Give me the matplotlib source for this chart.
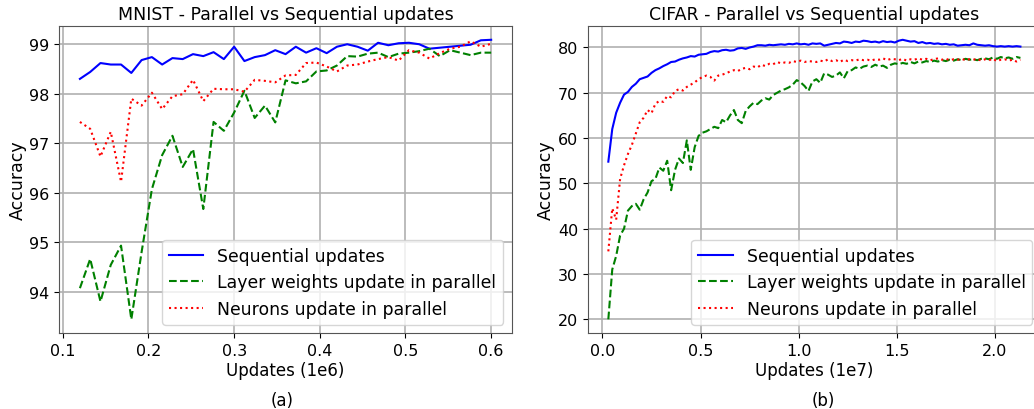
import numpy as np
import matplotlib
matplotlib.use('Agg')
import matplotlib.pyplot as plt

# MNIST run, updates in units of 1e6
mnist_updates = np.linspace(0.12, 0.6, 41)
mnist_sequential = [98.30, 98.44, 98.62, 98.59, 98.59, 98.42, 98.68, 98.74, 98.59, 98.72,
                    98.70, 98.80, 98.76, 98.84, 98.70, 98.95, 98.66, 98.74, 98.78, 98.88,
                    98.80, 98.95, 98.83, 98.92, 98.82, 98.95, 99.00, 98.95, 98.87, 99.03,
                    98.98, 99.02, 99.03, 99.00, 98.91, 98.93, 98.95, 98.97, 98.99, 99.08,
                    99.09]
mnist_layer = [94.07, 94.66, 93.80, 94.54, 94.93, 93.44, 94.80, 96.07, 96.76, 97.15,
               96.52, 96.88, 95.67, 97.43, 97.25, 97.62, 98.06, 97.51, 97.76, 97.42,
               98.27, 98.21, 98.25, 98.45, 98.47, 98.57, 98.76, 98.75, 98.81, 98.83,
               98.74, 98.81, 98.83, 98.86, 98.91, 98.76, 98.88, 98.83, 98.78, 98.83,
               98.83]
mnist_neurons = [97.43, 97.29, 96.73, 97.23, 96.22, 97.90, 97.76, 98.02, 97.69, 97.95,
                 97.99, 98.28, 97.85, 98.10, 98.09, 98.09, 98.04, 98.28, 98.26, 98.23,
                 98.37, 98.38, 98.62, 98.63, 98.55, 98.45, 98.57, 98.59, 98.65, 98.70,
                 98.74, 98.67, 98.88, 98.83, 98.71, 98.82, 98.91, 98.95, 99.06, 98.95,
                 99.01]

# CIFAR run, updates in units of 1e7
cifar_updates = np.linspace(0.03, 2.13, 106)
cifar_sequential = [54.8, 62.0, 65.6, 67.8, 69.6, 70.2, 71.3, 72.0, 73.0, 73.3,
                    73.6, 74.4, 75.0, 75.4, 75.9, 76.3, 76.8, 76.9, 77.3, 77.6,
                    77.8, 78.1, 78.0, 78.4, 78.5, 78.6, 79.0, 79.2, 79.1, 79.4,
                    79.5, 79.3, 79.4, 79.8, 79.9, 79.7, 80.0, 80.2, 80.5, 80.5,
                    80.4, 80.6, 80.5, 80.6, 80.7, 80.6, 80.8, 80.7, 80.9, 80.7,
                    80.8, 80.6, 80.9, 80.8, 80.9, 80.4, 80.6, 80.8, 81.0, 80.9,
                    81.3, 81.2, 81.0, 81.3, 81.2, 81.5, 81.4, 81.2, 81.3, 81.1,
                    81.4, 81.2, 81.3, 81.1, 81.5, 81.7, 81.5, 81.3, 81.4, 81.0,
                    81.2, 80.9, 81.0, 80.8, 80.9, 80.7, 80.8, 80.6, 80.7, 80.4,
                    80.5, 80.6, 80.5, 80.9, 80.6, 80.5, 80.4, 80.5, 80.3, 80.2,
                    80.3, 80.2, 80.3, 80.2, 80.3, 80.2]
cifar_layer = [20.0, 31.0, 34.0, 38.5, 40.0, 44.0, 45.0, 45.5, 44.2, 46.5,
               48.0, 50.5, 51.0, 53.5, 52.8, 55.0, 48.5, 53.0, 55.5, 54.5,
               59.5, 53.0, 58.0, 60.5, 61.2, 61.5, 62.0, 62.5, 62.2, 64.0,
               63.5, 65.0, 66.2, 64.0, 63.3, 66.0, 67.0, 67.8, 67.5, 68.3,
               68.8, 68.5, 69.5, 70.0, 70.5, 70.8, 71.2, 71.8, 72.8, 72.3,
               71.5, 70.4, 72.5, 73.0, 72.2, 74.3, 74.0, 73.5, 73.8, 74.5,
               73.2, 74.8, 75.0, 75.6, 75.3, 75.8, 76.0, 75.7, 76.2, 75.8,
               76.0, 75.5, 76.2, 76.5, 76.3, 76.6, 76.4, 76.8, 76.5, 76.9,
               76.7, 77.0, 76.8, 77.1, 76.9, 77.2, 77.0, 77.3, 77.1, 77.4,
               77.2, 77.5, 77.3, 77.4, 77.2, 77.5, 77.6, 77.4, 77.8, 77.5,
               77.9, 77.6, 77.8, 77.5, 77.9, 77.7]
cifar_neurons = [35.0, 44.5, 42.0, 51.0, 54.0, 56.5, 58.5, 61.0, 63.5, 64.5,
                 66.2, 65.5, 67.6, 68.2, 68.0, 69.3, 69.0, 70.4, 70.8, 70.5,
                 71.3, 71.8, 72.3, 73.0, 73.5, 73.8, 73.5, 72.7, 73.8, 74.0,
                 74.3, 74.7, 75.0, 74.8, 75.3, 75.5, 75.2, 75.8, 75.6, 76.2,
                 75.9, 76.4, 76.3, 76.8, 76.5, 76.7, 76.6, 77.0, 76.8, 77.1,
                 76.8, 77.0, 76.9, 76.8, 77.1, 76.9, 77.4, 77.0, 77.2, 76.8,
                 77.3, 77.0, 77.2, 77.1, 77.4, 77.2, 77.3, 77.1, 77.4, 77.3,
                 77.6, 77.2, 77.5, 77.4, 77.2, 77.5, 77.1, 77.4, 77.3, 77.6,
                 77.3, 77.5, 77.2, 77.4, 77.6, 77.3, 77.5, 77.2, 77.4, 77.3,
                 77.5, 77.2, 77.4, 77.3, 77.5, 77.1, 77.4, 77.2, 77.5, 77.0,
                 77.3, 77.4, 77.1, 77.3, 76.9, 77.3]

labels = ['Sequential updates', 'Layer weights update in parallel', 'Neurons update in parallel']

fig = plt.figure(figsize=(10.34, 4.10), dpi=100)
ax1 = fig.add_axes([0.0574, 0.1846, 0.4375, 0.750])
ax2 = fig.add_axes([0.5684, 0.1846, 0.4384, 0.750])

def draw_panel(ax, x, seq, layer, neurons, title, xlabel):
    ax.plot(x, seq, 'b-', label=labels[0])
    ax.plot(x, layer, 'g--', label=labels[1])
    ax.plot(x, neurons, 'r:', label=labels[2])
    ax.set_title(title, fontsize=12.5, pad=5)
    ax.set_xlabel(xlabel, fontsize=12, labelpad=2)
    ax.set_ylabel('Accuracy', fontsize=12.5, labelpad=2)
    ax.tick_params(labelsize=11.5)
    ax.grid(True, linewidth=1.2)
    for s in ax.spines.values():
        s.set_edgecolor('#555555')
    ax.legend(loc='lower right', fontsize=12.4)

draw_panel(ax1, mnist_updates, mnist_sequential, mnist_layer, mnist_neurons,
           'MNIST - Parallel vs Sequential updates', 'Updates (1e6)')
ax1.set_xticks([0.1, 0.2, 0.3, 0.4, 0.5, 0.6])
draw_panel(ax2, cifar_updates, cifar_sequential, cifar_layer, cifar_neurons,
           'CIFAR - Parallel vs Sequential updates', 'Updates (1e7)')

fig.text(282 / 1034, 1 - 401 / 410, '(a)', ha='center', va='center', fontsize=12)
fig.text(823 / 1034, 1 - 401 / 410, '(b)', ha='center', va='center', fontsize=12)

fig.savefig('out.png', dpi=100)
